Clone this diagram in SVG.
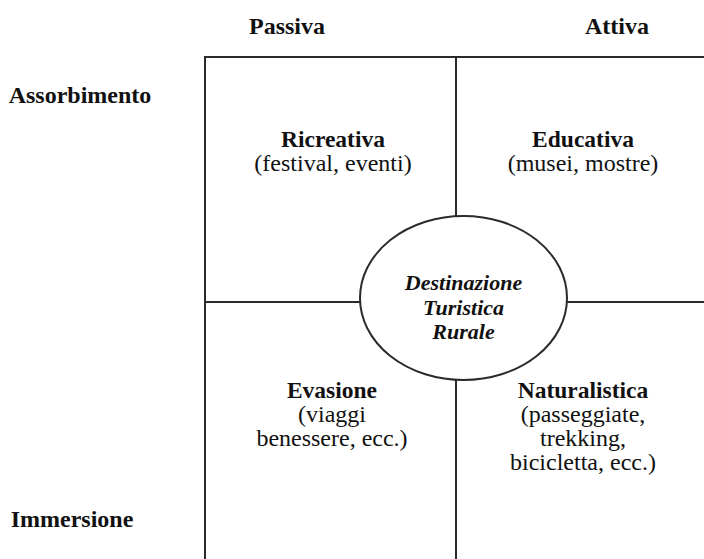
<svg xmlns="http://www.w3.org/2000/svg" width="704" height="559" viewBox="0 0 704 559">
  <style>
    text { font-family: "Liberation Serif", "DejaVu Serif", serif; fill: #111; text-anchor: middle; }
    .grid { stroke: #2b2b2b; stroke-width: 2; fill: none; }
    .hdr { font-size: 24px; font-weight: bold; }
    .ttl { font-size: 23.5px; font-weight: bold; }
    .sub { font-size: 24px; }
    .ctr { font-size: 22px; font-weight: bold; font-style: italic; }
  </style>

  <rect width="704" height="559" fill="#ffffff"/>

  <!-- axis labels -->
  <g id="axis-labels">
    <text class="hdr" x="287" y="34">Passiva</text>
    <text class="hdr" x="617" y="34">Attiva</text>
    <text class="hdr" x="80" y="103">Assorbimento</text>
    <text class="hdr" x="72" y="527">Immersione</text>
  </g>

  <!-- quadrant grid lines -->
  <g id="connectors">
    <path class="grid" d="M205 559 V57 H704"/>
    <line class="grid" x1="456" y1="57" x2="456" y2="216"/>
    <line class="grid" x1="456" y1="380" x2="456" y2="559"/>
    <line class="grid" x1="205" y1="302" x2="360" y2="302"/>
    <line class="grid" x1="567" y1="302" x2="704" y2="302"/>
  </g>

  <g id="ricreativa">
    <text class="ttl" x="333" y="147">Ricreativa</text>
    <text class="sub" x="333" y="171">(festival, eventi)</text>
  </g>

  <g id="educativa">
    <text class="ttl" x="583" y="147">Educativa</text>
    <text class="sub" x="583" y="171">(musei, mostre)</text>
  </g>

  <g id="evasione">
    <text class="ttl" x="332" y="398">Evasione</text>
    <text class="sub" x="332" y="422">(viaggi</text>
    <text class="sub" x="332" y="446">benessere, ecc.)</text>
  </g>

  <g id="naturalistica">
    <text class="ttl" x="583" y="398">Naturalistica</text>
    <text class="sub" x="583" y="422">(passeggiate,</text>
    <text class="sub" x="583" y="446">trekking,</text>
    <text class="sub" x="583" y="470">bicicletta, ecc.)</text>
  </g>

  <g id="destinazione">
    <ellipse class="grid" cx="463.5" cy="298" rx="103.5" ry="82"/>
    <text class="ctr" x="463.5" y="290">Destinazione</text>
    <text class="ctr" x="463.5" y="315">Turistica</text>
    <text class="ctr" x="463.5" y="339">Rurale</text>
  </g>
</svg>
